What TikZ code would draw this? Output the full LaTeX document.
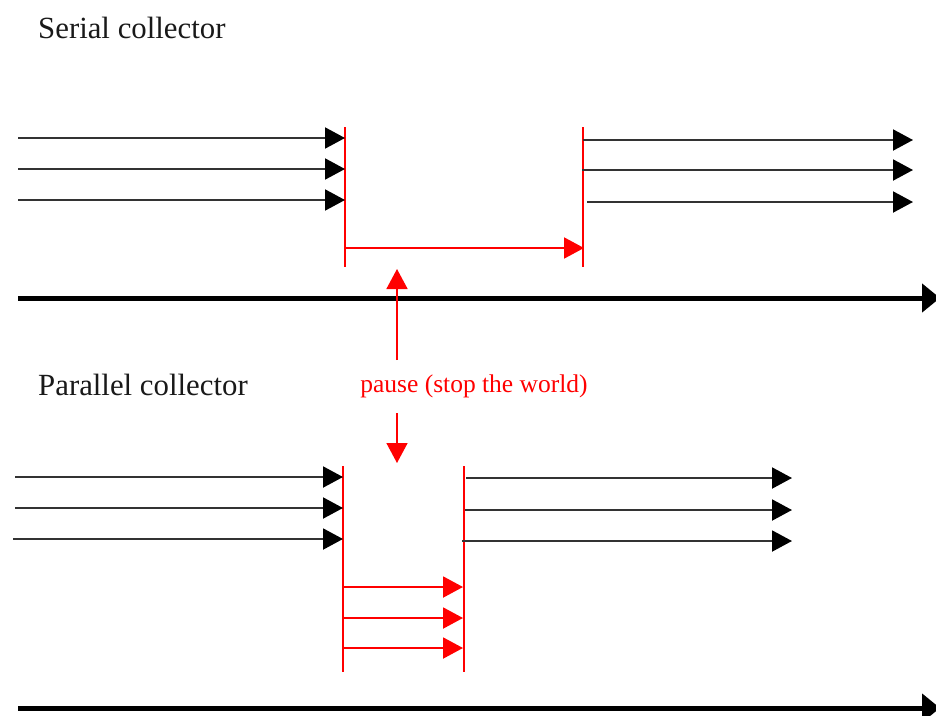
\documentclass[tikz,border=0pt]{standalone}
\usepackage{fontspec}
\setmainfont{Liberation Serif}
\usetikzlibrary{arrows.meta}
\definecolor{pred}{RGB}{255,0,0}
\tikzset{
  thread/.style={draw=black!80, line width=2pt, -{Triangle[length=20pt,width=21pt,color=black]}},
  redarr/.style={draw=pred, line width=2pt, -{Triangle[length=20pt,width=21pt]}},
  redbar/.style={draw=pred, line width=1.6pt},
  timeline/.style={draw=black, line width=5pt, -{Triangle[length=18pt,width=28pt]}},
  title/.style={anchor=base west, inner sep=0pt, font=\fontsize{30.8pt}{36pt}\selectfont, text=black!90},
  redlabel/.style={anchor=base, inner sep=0pt, font=\fontsize{25.5pt}{30pt}\selectfont, text=pred},
}
\begin{document}
\begin{tikzpicture}[x=1pt,y=-1pt]
\useasboundingbox (0,0) rectangle (936,715);
% ---------- Serial ----------
\node[title] (t1) at (38,38) {Serial collector};
\coordinate (s1a) at (345,127); \coordinate (s1b) at (345,267);
\coordinate (s2a) at (583,127); \coordinate (s2b) at (583,267);
\draw[redbar] (s1a) -- (s1b);
\draw[redbar] (s2a) -- (s2b);
\foreach \i/\y in {1/138,2/169,3/200} {
  \coordinate (sl\i) at (18,\y); \coordinate (slt\i) at (345,\y);
  \draw[thread] (sl\i) -- (slt\i);
}
\foreach \i/\y/\xs in {1/140/583,2/170/582,3/202/587} {
  \coordinate (sr\i) at (\xs,\y); \coordinate (srt\i) at (913,\y);
  \draw[thread] (sr\i) -- (srt\i);
}
\coordinate (sga) at (345,248); \coordinate (sgb) at (584,248);
\draw[redarr] (sga) -- (sgb);
\coordinate (tl1a) at (18,298); \coordinate (tl1b) at (940,298);
\draw[timeline] (tl1a) -- (tl1b);
% ---------- pause ----------
\node[redlabel] (pause) at (474,392) {pause (stop the world)};
\coordinate (upa) at (397,360); \coordinate (upb) at (397,269);
\draw[redarr, line width=1.6pt] (upa) -- (upb);
\coordinate (dna) at (397,413); \coordinate (dnb) at (397,463);
\draw[redarr, line width=1.6pt] (dna) -- (dnb);
% ---------- Parallel ----------
\node[title] (t2) at (38,395) {Parallel collector};
\coordinate (p1a) at (343,466); \coordinate (p1b) at (343,672);
\coordinate (p2a) at (464,466); \coordinate (p2b) at (464,672);
\draw[redbar] (p1a) -- (p1b);
\draw[redbar] (p2a) -- (p2b);
\foreach \i/\y/\xs in {1/477/15,2/508/15,3/539/13} {
  \coordinate (pl\i) at (\xs,\y); \coordinate (plt\i) at (343,\y);
  \draw[thread] (pl\i) -- (plt\i);
}
\foreach \i/\y/\xs in {1/478/466,2/510/465,3/541/462} {
  \coordinate (pr\i) at (\xs,\y); \coordinate (prt\i) at (792,\y);
  \draw[thread] (pr\i) -- (prt\i);
}
\foreach \i/\y in {1/587,2/618,3/648} {
  \coordinate (pg\i) at (343,\y); \coordinate (pgt\i) at (463,\y);
  \draw[redarr] (pg\i) -- (pgt\i);
}
\coordinate (tl2a) at (18,708); \coordinate (tl2b) at (940,708);
\draw[timeline] (tl2a) -- (tl2b);
\end{tikzpicture}
\end{document}
